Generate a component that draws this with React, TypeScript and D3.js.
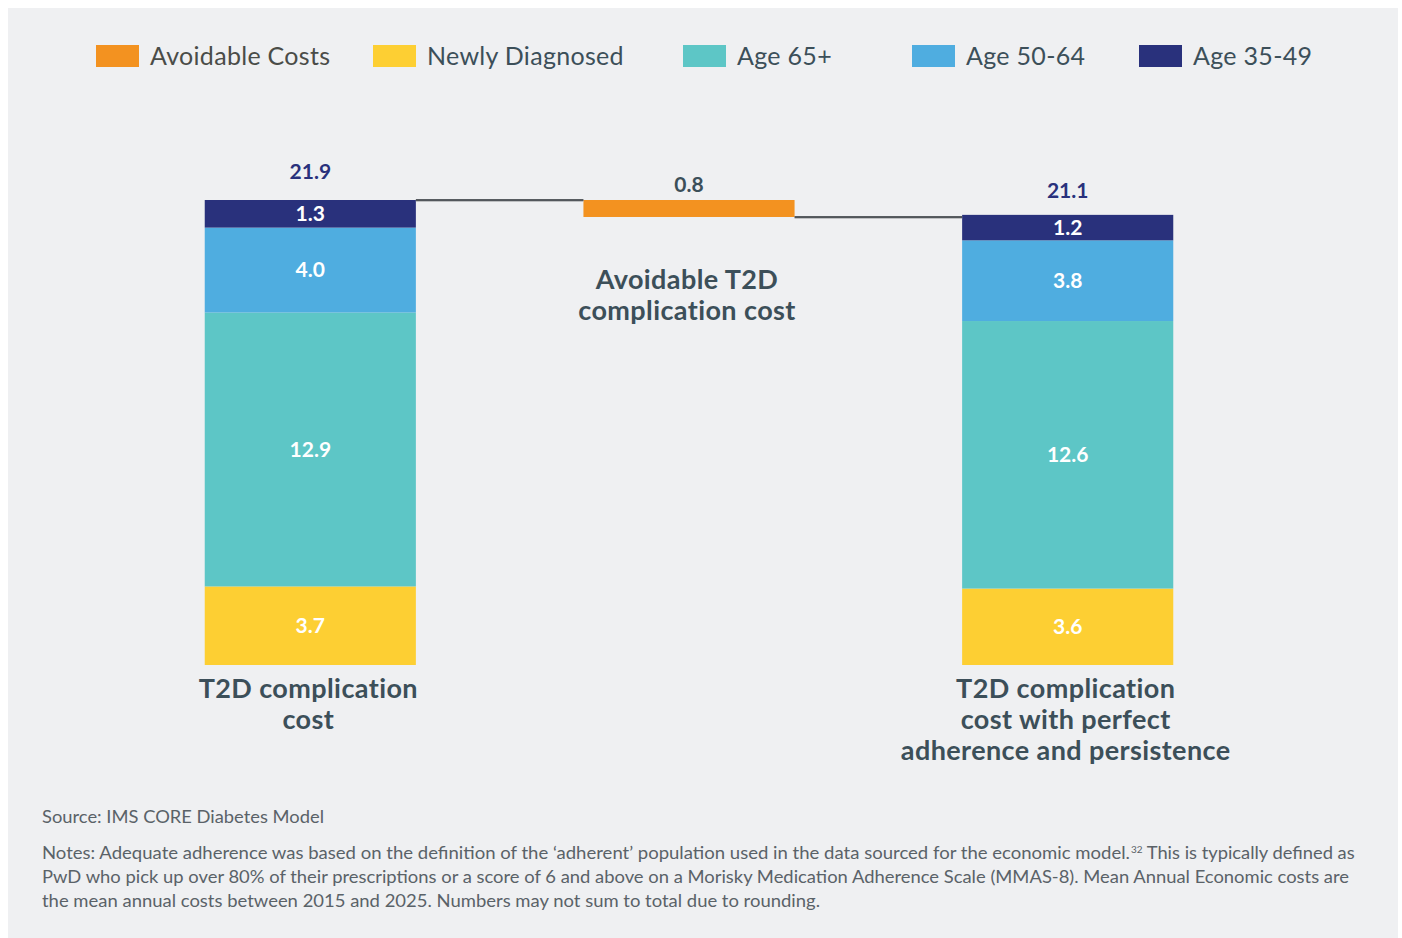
import * as d3 from "d3";
import { useEffect, useRef } from "react";

// ---- data ----
const categories = ["baseline", "avoidable", "perfect"];
const categoryLines = [
  ["T2D complication", "cost"],
  ["Avoidable T2D", "complication cost"],
  ["T2D complication", "cost with perfect", "adherence and persistence"],
];
const seriesNames = ["Newly Diagnosed", "Age 65+", "Age 50-64", "Age 35-49"];
const baselineValues = [3.7, 12.9, 4.0, 1.3];
const perfectValues = [3.6, 12.6, 3.8, 1.2];
const totals = [21.9, 21.1];
const avoidableValue = 0.8;
const legendNames = ["Avoidable Costs", ...seriesNames];
const legendX = [96, 373, 683, 912, 1139];
const notes = [
  "Notes: Adequate adherence was based on the definition of the \u2018adherent\u2019 population used in the data sourced for the economic model.",
  "PwD who pick up over 80% of their prescriptions or a score of 6 and above on a Morisky Medication Adherence Scale (MMAS-8). Mean Annual Economic costs are",
  "the mean annual costs between 2015 and 2025.  Numbers may not sum to total due to rounding.",
];

const colors = ["#f39220", "#fdcf33", "#5dc6c6", "#4fade0", "#29317c"];
const textDark = "#3c4f59";
const font = "Lato, 'Open Sans', sans-serif";

export default function App() {
  const ref = useRef<SVGSVGElement>(null);

  useEffect(() => {
    document.body.style.margin = "0";
    const svg = d3.select(ref.current);
    svg.selectAll("*").remove();

    svg.append("rect").attr("x", 8).attr("y", 8).attr("width", 1390).attr("height", 930).attr("fill", "#eff0f2");

    const X = d3.scaleBand().domain(categories).range([129, 1249]).paddingInner(0.4425).paddingOuter(0.2);
    const Y = d3.scaleLinear().domain([0, 21.9]).range([665, 200]);
    const bw = X.bandwidth();

    // ---- legend ----
    const leg = svg.append("g");
    legendNames.forEach((name, i) => {
      leg.append("rect").attr("x", legendX[i]).attr("y", 45).attr("width", 43).attr("height", 22).attr("fill", colors[i]);
      leg.append("text").text(name)
        .attr("x", legendX[i] + 54).attr("y", 56).attr("dy", "0.35em")
        .attr("font-family", font).attr("font-size", 25).attr("letter-spacing", 0.3)
        .attr("fill", i === 0 ? "#4a4c48" : textDark);
    });

    // ---- stacked bars ----
    const drawStack = (cat: string, vals: number[]) => {
      let acc = 0;
      vals.forEach((v, i) => {
        const y0 = Y(acc), y1 = Y(acc + v);
        acc += v;
        svg.append("rect")
          .attr("x", X(cat)!).attr("y", y1).attr("width", bw).attr("height", y0 - y1)
          .attr("fill", colors[i + 1]);
        svg.append("text").text(v.toFixed(1))
          .attr("x", X(cat)! + bw / 2).attr("y", (y0 + y1) / 2).attr("dy", "0.35em")
          .attr("text-anchor", "middle").attr("font-family", font).attr("font-weight", 700)
          .attr("font-size", 21).attr("fill", "#ffffff");
      });
      return acc;
    };
    const top1 = drawStack("baseline", baselineValues);
    const top3 = drawStack("perfect", perfectValues);

    // ---- avoidable bar ----
    const after = totals[0] - avoidableValue;
    svg.append("rect")
      .attr("x", X("avoidable")!).attr("y", Y(totals[0])).attr("width", bw)
      .attr("height", Y(after) - Y(totals[0])).attr("fill", colors[0]);

    // connectors
    const conn = [
      [X("baseline")! + bw, X("avoidable")!, Y(totals[0])],
      [X("avoidable")! + bw, X("perfect")!, Y(after)],
    ];
    conn.forEach(([a, b, y]) => {
      svg.append("line").attr("x1", a).attr("x2", b).attr("y1", y + 1.2).attr("y2", y + 1.2)
        .attr("stroke", "#a8aaad").attr("stroke-width", 1);
      svg.append("line").attr("x1", a).attr("x2", b).attr("y1", y).attr("y2", y)
        .attr("stroke", "#262b30").attr("stroke-width", 1.5);
    });

    // totals
    const totalLabel = (txt: string, x: number, y: number, fill: string) =>
      svg.append("text").text(txt).attr("x", x).attr("y", y).attr("dy", "0.35em")
        .attr("text-anchor", "middle").attr("font-family", font).attr("font-weight", 700)
        .attr("font-size", 21).attr("fill", fill);
    totalLabel(totals[0].toFixed(1), X("baseline")! + bw / 2, Y(top1) - 28, "#29317c");
    totalLabel(avoidableValue.toFixed(1), X("avoidable")! + bw / 2, Y(totals[0]) - 15, textDark);
    totalLabel(totals[1].toFixed(1), X("perfect")! + bw / 2, Y(top3) - 24, "#29317c");

    // category labels
    categories.forEach((c, i) => {
      const cx = X(c)! + bw / 2 - 2;
      const startY = c === "avoidable" ? 280 : 689;
      categoryLines[i].forEach((ln, j) => {
        svg.append("text").text(ln)
          .attr("x", cx).attr("y", startY + j * 31).attr("dy", "0.35em")
          .attr("text-anchor", "middle").attr("font-family", font).attr("font-weight", 700)
          .attr("font-size", 27).attr("letter-spacing", 0.4).attr("fill", textDark);
      });
    });

    // source & notes
    svg.append("text").text("Source: IMS CORE Diabetes Model")
      .attr("x", 42).attr("y", 817).attr("dy", "0.35em")
      .attr("font-family", font).attr("font-size", 17).attr("fill", "#5a6268")
      .attr("textLength", 282).attr("lengthAdjust", "spacingAndGlyphs");
    const lens = [1088, 1307, 778];
    notes.forEach((n, i) => {
      const t = svg.append("text")
        .attr("x", 42).attr("y", 853 + i * 24).attr("dy", "0.35em")
        .attr("font-family", font).attr("font-size", 17).attr("fill", "#5a6268");
      t.append("tspan").text(n).attr("textLength", lens[i]).attr("lengthAdjust", "spacingAndGlyphs");
      if (i === 0) {
        t.append("tspan").text("32").attr("font-size", 10).attr("dy", -6).attr("dx", 1);
        t.append("tspan").text(" This is typically defined as").attr("dy", 6)
          .attr("textLength", 212).attr("lengthAdjust", "spacingAndGlyphs");
      }
    });
  }, []);

  return <svg ref={ref} width={1402} height={938} style={{ display: "block", background: "#ffffff" }} />;
}
